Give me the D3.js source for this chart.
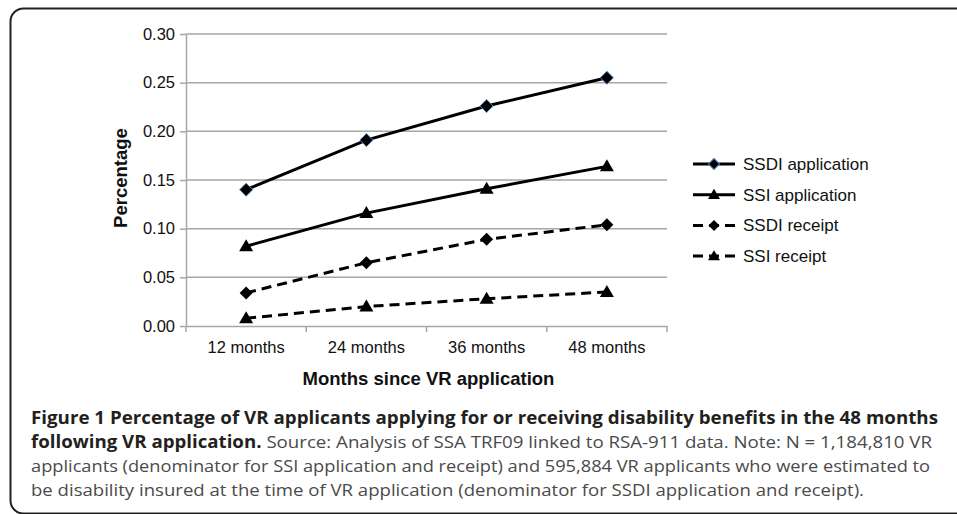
<!DOCTYPE html>
<html>
<head>
<meta charset="utf-8">
<script src="https://cdn.jsdelivr.net/npm/d3@7"></script>
<style>
body { margin: 0; background: #fff; }
svg { display: block; }
</style>
</head>
<body>
<div id="chart"></div>
<script>
// data
var categories = ["12 months", "24 months", "36 months", "48 months"];
var ssdiApplication = [0.140, 0.191, 0.226, 0.255];
var ssiApplication = [0.082, 0.116, 0.141, 0.164];
var ssdiReceipt = [0.034, 0.065, 0.089, 0.104];
var ssiReceipt = [0.008, 0.020, 0.028, 0.035];
var yTicks = [0, 0.05, 0.10, 0.15, 0.20, 0.25, 0.30];
var seriesNames = ["SSDI application", "SSI application", "SSDI receipt", "SSI receipt"];

var captionLines = [
    [{t: "Figure 1 Percentage of VR applicants applying for or receiving disability benefits in the 48 months", b: true}],
    [{t: "following VR application.", b: true}, {t: " Source: Analysis of SSA TRF09 linked to RSA-911 data. Note: N = 1,184,810 VR", b: false}],
    [{t: "applicants (denominator for SSI application and receipt) and 595,884 VR applicants who were estimated to", b: false}],
    [{t: "be disability insured at the time of VR application (denominator for SSDI application and receipt).", b: false}]
];
var captionWidths = [907, 901, 899, 833];

var series = [
    {name: seriesNames[0], values: ssdiApplication, marker: "diamond", dashed: false, outline: "#4f81bd"},
    {name: seriesNames[1], values: ssiApplication, marker: "triangle", dashed: false, outline: null},
    {name: seriesNames[2], values: ssdiReceipt, marker: "diamond", dashed: true, outline: null},
    {name: seriesNames[3], values: ssiReceipt, marker: "triangle", dashed: true, outline: null}
];

var w = 957;
var h = 514;
// plot area edges
var plotLeft = 186, plotRight = 667, plotTop = 34, plotBottom = 326;
var chartFont = "Liberation Sans, Arial, sans-serif";

var svg = d3.select("#chart")
            .append("svg")
            .attr("width", w)
            .attr("height", h);

// frame
svg.append("rect")
   .attr("x", 10.5)
   .attr("y", 8.5)
   .attr("width", 970)
   .attr("height", 505)
   .attr("rx", 13)
   .attr("fill", "none")
   .attr("stroke", "#222")
   .attr("stroke-width", 2);

var x = d3.scaleBand()
          .domain(categories)
          .range([plotLeft, plotRight]);
var y = d3.scaleLinear()
          .domain([0, 0.30])
          .range([plotBottom, plotTop]);

// gridlines
svg.selectAll("line.grid")
   .data(yTicks.slice(1))
   .enter()
   .append("line")
   .attr("class", "grid")
   .attr("x1", plotLeft)
   .attr("x2", plotRight)
   .attr("y1", function(d) { return y(d); })
   .attr("y2", function(d) { return y(d); })
   .attr("stroke", "#a6a6a6")
   .attr("stroke-width", 1.5);

// y axis
var yAxis = svg.append("g")
   .attr("transform", "translate(" + plotLeft + ",0)")
   .call(d3.axisLeft(y).tickValues(yTicks).tickFormat(d3.format(".2f")).tickSizeInner(6).tickSizeOuter(0).tickPadding(5));
yAxis.select(".domain").attr("stroke", "#a6a6a6").attr("stroke-width", 1.5);
yAxis.selectAll(".tick line").attr("stroke", "#a6a6a6").attr("stroke-width", 1.5);
yAxis.selectAll(".tick text")
     .attr("font-family", chartFont)
     .attr("font-size", "16.5px")
     .attr("fill", "#111");

// x axis
var xAxis = svg.append("g")
   .attr("transform", "translate(0," + plotBottom + ")")
   .call(d3.axisBottom(x).tickSize(0).tickPadding(15));
xAxis.select(".domain").attr("stroke", "#a6a6a6").attr("stroke-width", 1.5);
xAxis.selectAll(".tick text")
     .attr("font-family", chartFont)
     .attr("font-size", "16.5px")
     .attr("fill", "#111");
// category boundary ticks
svg.selectAll("line.xtick")
   .data(categories.concat(["end"]))
   .enter()
   .append("line")
   .attr("class", "xtick")
   .attr("x1", function(d, i) { return i < categories.length ? x(d) : plotRight; })
   .attr("x2", function(d, i) { return i < categories.length ? x(d) : plotRight; })
   .attr("y1", plotBottom)
   .attr("y2", plotBottom + 6)
   .attr("stroke", "#a6a6a6")
   .attr("stroke-width", 1.5);

// axis titles
svg.append("text")
   .text("Months since VR application")
   .attr("x", (plotLeft + plotRight) / 2 + 2)
   .attr("y", 385)
   .attr("text-anchor", "middle")
   .attr("font-family", chartFont)
   .attr("font-weight", "bold")
   .attr("font-size", "18.5px")
   .attr("fill", "#111");
svg.append("text")
   .text("Percentage")
   .attr("transform", "translate(127,178) rotate(-90)")
   .attr("text-anchor", "middle")
   .attr("font-family", chartFont)
   .attr("font-weight", "bold")
   .attr("font-size", "18.5px")
   .attr("fill", "#111");

function markerPath(type) {
    if (type === "diamond") {
        return "M0,-6.5L6.5,0L0,6.5L-6.5,0Z";
    }
    return "M0,-7L7,5L-7,5Z";
}

var line = d3.line()
    .x(function(d, i) { return x(categories[i]) + x.bandwidth() / 2; })
    .y(function(d) { return y(d); });

series.forEach(function(s) {
    svg.append("path")
       .datum(s.values)
       .attr("d", line)
       .attr("fill", "none")
       .attr("stroke", "#000")
       .attr("stroke-width", 3)
       .attr("stroke-dasharray", s.dashed ? "10,6" : null);

    svg.selectAll(null)
       .data(s.values)
       .enter()
       .append("path")
       .attr("d", markerPath(s.marker))
       .attr("transform", function(d, i) {
            return "translate(" + (x(categories[i]) + x.bandwidth() / 2) + "," + y(d) + ")";
       })
       .attr("fill", "#000")
       .attr("stroke", s.outline)
       .attr("stroke-width", s.outline ? 1 : 0);
});

// legend
var legend = svg.selectAll("g.legend")
    .data(series)
    .enter()
    .append("g")
    .attr("class", "legend")
    .attr("transform", function(d, i) { return "translate(693," + (164 + i * 30.7) + ")"; });
legend.append("line")
    .attr("x1", 0)
    .attr("x2", 42)
    .attr("stroke", "#000")
    .attr("stroke-width", 3)
    .attr("stroke-dasharray", function(d) { return d.dashed ? "10,6" : null; });
legend.append("path")
    .attr("d", function(d) { return markerPath(d.marker); })
    .attr("transform", "translate(21,0) scale(0.85)")
    .attr("fill", "#000")
    .attr("stroke", function(d) { return d.outline; })
    .attr("stroke-width", function(d) { return d.outline ? 1.2 : 0; });
legend.append("text")
    .text(function(d) { return d.name; })
    .attr("x", 50)
    .attr("dy", "0.35em")
    .attr("font-family", chartFont)
    .attr("font-size", "17px")
    .attr("fill", "#111");

// caption
var cap = svg.selectAll("text.caption")
    .data(captionLines)
    .enter()
    .append("text")
    .attr("class", "caption")
    .attr("x", 31)
    .attr("y", function(d, i) { return 424 + i * 24; })
    .attr("font-family", "Open Sans, Noto Sans, sans-serif")
    .attr("font-size", "17px")
    .attr("textLength", function(d, i) { return captionWidths[i]; })
    .attr("lengthAdjust", "spacingAndGlyphs");
cap.selectAll("tspan")
    .data(function(d) { return d; })
    .enter()
    .append("tspan")
    .text(function(d) { return d.t; })
    .attr("font-weight", function(d) { return d.b ? "bold" : "normal"; })
    .attr("fill", function(d) { return d.b ? "#231f20" : "#4a4a4a"; });
</script>
</body>
</html>
